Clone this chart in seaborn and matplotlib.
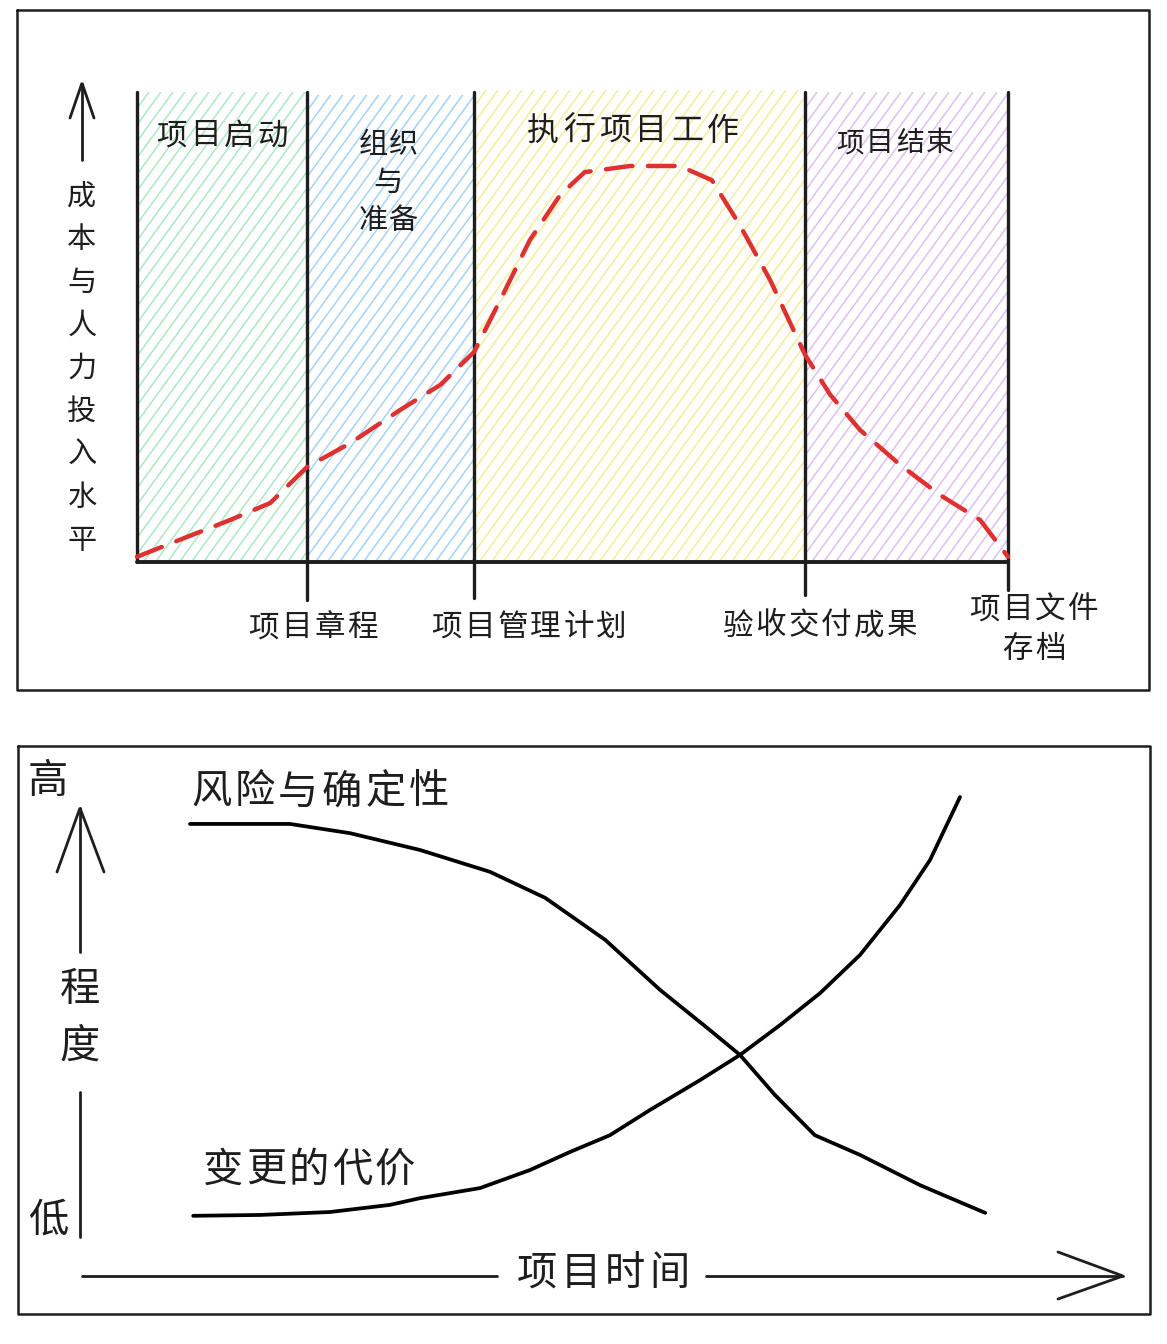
import matplotlib
matplotlib.use("Agg")
import matplotlib.pyplot as plt
from matplotlib.collections import LineCollection
from matplotlib.patches import Rectangle
import seaborn as sns
import numpy as np

sns.set_theme(style="white")
plt.rcParams['font.family'] = ['Noto Sans CJK SC', 'DejaVu Sans']

# ---------------- data ----------------
# top chart: phases along project time (0-100) and effort curve (0-100)
phase_names = ["项目启动", "组织\n与\n准备", "执行项目工作", "项目结束"]
phase_edges = [0.0, 19.5, 38.7, 76.7, 100.0]
phase_colors = ["#aee8c0", "#a8d2f4", "#f4ee9c", "#e0c0f0"]
milestones = ["项目章程", "项目管理计划", "验收交付成果", "项目文件\n存档"]
y_label_top = "成本与人力投入水平"

effort_x = [0, 4.9, 10.7, 15.3, 19.5, 24.5, 30.2, 34.8, 38.7, 41.7, 45.1, 48.6,
            51.4, 56.6, 62.3, 66.0, 69.2, 72.7, 76.7, 79.6, 83.0, 87.6, 92.2, 96.8, 100]
effort_y = [1.1, 4.7, 8.9, 12.5, 20.1, 25.2, 32.2, 37.5, 44.5, 55.5, 68.2, 77.8,
            82.6, 83.9, 83.9, 80.9, 71.4, 59.7, 43.9, 35.4, 28.0, 20.6, 14.2, 8.9, 1.1]

# bottom chart: degree over project time
risk_x = [0, 12.5, 20, 28.75, 37.5, 44.4, 51.9, 58.75, 65, 68.75, 73.1, 78.1, 83.75, 91.25, 99.4]
risk_y = [94.3, 94.3, 92.1, 88.1, 82.9, 76.7, 66.7, 54.8, 45.2, 39.3, 29.8, 20.2, 15.5, 8.3, 1.7]
cost_x = [0.4, 8.75, 17.5, 25, 28.75, 36.25, 42.5, 47.5, 52.5, 57.5, 63.75, 68.75,
          73.75, 78.75, 83.75, 88.75, 92.5, 96.25]
cost_y = [1.0, 1.2, 1.9, 3.6, 5.2, 7.6, 11.9, 16.2, 20.2, 26.2, 33.3, 39.3,
          46.4, 54.0, 63.1, 75.0, 85.7, 100.7]
risk_label = "风险与确定性"
cost_label = "变更的代价"
high_label, low_label = "高", "低"
degree_label = "程度"
time_label = "项目时间"

# ---------------- figure ----------------
W, H = 1167, 1344
fig = plt.figure(figsize=(W / 100, H / 100), dpi=100)
fig.patch.set_facecolor("white")

bg = fig.add_axes([0, 0, 1, 1])
bg.set_xlim(0, W)
bg.set_ylim(H, 0)
bg.axis("off")
bg.set_zorder(0)

def px_ax(l, t, r, b):
    return [l / W, (H - b) / H, (r - l) / W, (b - t) / H]

K = "#1e1e1e"
top_layer = []

def spaced(cx, cy, s, fs, pitch, lead=None):
    """Draw (multi-line) text char by char in pixel space with letter pitch."""
    lines = s.split("\n")
    lead = lead if lead is not None else pitch
    y0 = cy - (len(lines) - 1) * lead / 2
    for j, line in enumerate(lines):
        n = len(line)
        for i, ch in enumerate(line):
            top_layer.append((cx + (i - (n - 1) / 2) * pitch, y0 + j * lead, ch, fs))

# panel frames
for (l, t, r, b) in [(17, 10, 1149, 690), (18, 746, 1150, 1314)]:
    bg.plot([l, r, r, l, l], [t, t, b, b, t], color=K, lw=1.8)

# ---------------- top chart ----------------
TL, TT, TR, TB = 137, 90, 1008, 562
ax = fig.add_axes(px_ax(TL, TT, TR, TB))
ax.set_xlim(0, 100)
ax.set_ylim(0, 100)
ax.patch.set_alpha(0)
ax.axis("off")
ax.set_zorder(1)

ppx = (TR - TL) / 100.0
ppy = (TB - TT) / 100.0
slope = np.tan(np.radians(54)) * ppx / ppy
step = 12.0 / ppx

tops = [99.6, 99.0, 100.0, 99.6]
for i in range(4):
    a, b, t = phase_edges[i], phase_edges[i + 1], tops[i]
    rect = Rectangle((a, 0), b - a, t, facecolor="none", edgecolor="none")
    ax.add_patch(rect)
    xs = np.arange(a - t / slope, b + step, step)
    segs = [[(x0, 0), (x0 + t / slope, t)] for x0 in xs]
    lc = LineCollection(segs, colors=phase_colors[i], linewidths=1.1, zorder=1)
    ax.add_collection(lc)
    lc.set_clip_path(rect)

bottoms = [0, -8.1, -7.6, -7.0, -5.9]
for x, b in zip(phase_edges, bottoms):
    ax.plot([x, x], [b, 99.6], color=K, lw=2.4, clip_on=False, zorder=3,
            solid_capstyle="round")
ax.plot([0, 100], [0, 0], color=K, lw=2.8, clip_on=False, zorder=3)

sns.lineplot(x=effort_x, y=effort_y, ax=ax, color="#e03131", lw=3.2,
             linestyle=(0, (6, 3.5)), dash_capstyle="round", zorder=4,
             clip_on=False)

# phase titles (pixel space, letter-spaced)
spaced(222, 136, phase_names[0], 22, 34)
spaced(388, 183, phase_names[1], 21, 30, lead=38)
spaced(633, 131, phase_names[2], 23, 36)
spaced(895, 143, phase_names[3], 20, 30)

# milestones
spaced(313, 628, milestones[0], 22, 33)
spaced(529, 627, milestones[1], 22, 33)
spaced(820, 626, milestones[2], 22, 33)
spaced(1034, 630, milestones[3], 22, 33, lead=40)

# top y-axis arrow and label
bg.plot([82, 82], [160, 84], color=K, lw=2)
bg.plot([70, 82, 94], [118, 83, 118], color=K, lw=2, solid_joinstyle="miter")
for i, ch in enumerate(y_label_top):
    top_layer.append((82, 197 + i * 43, ch, 21))

# ---------------- bottom chart ----------------
ax2 = fig.add_axes(px_ax(190, 800, 990, 1220))
ax2.set_xlim(0, 100)
ax2.set_ylim(0, 100)
ax2.patch.set_alpha(0)
ax2.axis("off")
ax2.set_zorder(1)

sns.lineplot(x=risk_x, y=risk_y, ax=ax2, color="black", lw=2.7, clip_on=False,
             solid_capstyle="round", solid_joinstyle="round")
sns.lineplot(x=cost_x, y=cost_y, ax=ax2, color="black", lw=2.7, clip_on=False,
             solid_capstyle="round", solid_joinstyle="round")

spaced(320, 792, risk_label, 29, 43.5)
spaced(309, 1170, cost_label, 29, 43)

bg.plot([80, 80], [808, 952], color=K, lw=2)
bg.plot([57, 80, 104], [872, 808, 872], color=K, lw=2, solid_joinstyle="miter")
bg.plot([80, 80], [1092, 1237], color=K, lw=2)
spaced(48, 782, high_label, 29, 40)
spaced(48, 1220, low_label, 29, 40)
spaced(80, 1018, "\n".join(degree_label), 29, 40, lead=56)

bg.plot([82, 497], [1276, 1276], color=K, lw=2)
bg.plot([706, 1123], [1276, 1276], color=K, lw=2)
bg.plot([1058, 1123, 1058], [1252, 1276, 1299], color=K, lw=2, solid_joinstyle="miter")
spaced(603, 1274, time_label, 29, 44)

# text layer above everything
tx = fig.add_axes([0, 0, 1, 1])
tx.set_xlim(0, W)
tx.set_ylim(H, 0)
tx.axis("off")
tx.patch.set_alpha(0)
tx.set_zorder(5)
for (x, y, ch, fs) in top_layer:
    tx.text(x, y, ch, ha="center", va="center", fontsize=fs, color=K)

fig.savefig("out.png", dpi=100, facecolor="white")
